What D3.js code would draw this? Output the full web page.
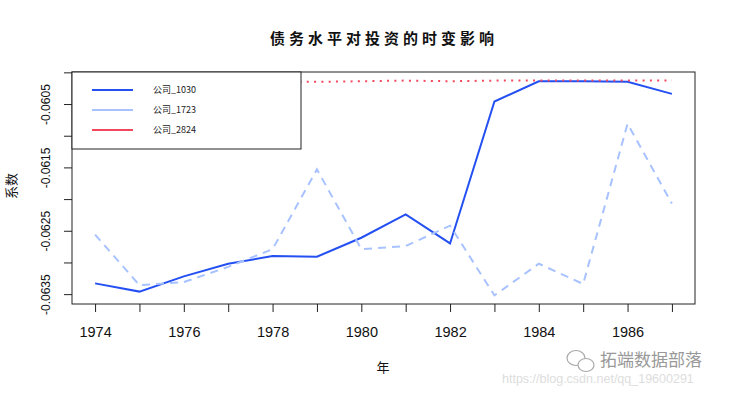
<!DOCTYPE html>
<html>
<head>
<meta charset="utf-8">
<script src="https://cdn.jsdelivr.net/npm/d3@7"></script>
<style>
  body { margin: 0; background: #fff; }
  svg { display: block; }
  text { font-family: "Liberation Sans", Arial, sans-serif; }
  .cjk { font-family: "Noto Sans CJK SC", sans-serif; }
</style>
</head>
<body>
<svg id="chart" width="732" height="394"></svg>
<script>
// данные
const years = [1974, 1975, 1976, 1977, 1978, 1979, 1980, 1981, 1982, 1983, 1984, 1985, 1986, 1987]
const firm1030 = [-0.06333, -0.06346, -0.06322, -0.06302, -0.06290, -0.06291, -0.06261, -0.06224, -0.06270, -0.06046, -0.06014, -0.06014, -0.06015, -0.06034]
const firm1723 = [-0.06256, -0.06336, -0.06331, -0.06307, -0.06279, -0.06153, -0.06279, -0.06274, -0.06242, -0.06352, -0.06302, -0.06334, -0.06081, -0.06207]
const firm2824 = [-0.06016, -0.06016, -0.06016, -0.06015, -0.06015, -0.06015, -0.06014, -0.06013, -0.06014, -0.06013, -0.06013, -0.06013, -0.06013, -0.06013]
const seriesNames = ['公司_1030', '公司_1723', '公司_2824']
const xTickLabels = [1974, 1976, 1978, 1980, 1982, 1984, 1986]
const yTicks = [-0.0600, -0.0605, -0.0610, -0.0615, -0.0620, -0.0625, -0.0630, -0.0635]
const yTickLabels = ['-0.0605', '-0.0615', '-0.0625', '-0.0635']

const series = [
  {name: seriesNames[0], values: firm1030, color: '#2450f2', dash: null},
  {name: seriesNames[1], values: firm1723, color: '#a8c2ff', dash: '8,6'},
  {name: seriesNames[2], values: firm2824, color: '#f2485e', dash: '2,5.3'}
]

let margin = {top: 72, right: 37, bottom: 90, left: 72}
let svg = d3.select('#chart')
let width = +svg.attr('width') - margin.left - margin.right
let height = +svg.attr('height') - margin.top - margin.bottom

// как в R: поля 4%
function padded (lo, hi) {
  let p = (hi - lo) * 0.04
  return [lo - p, hi + p]
}
let allY = firm1030.concat(firm1723, firm2824)

let x = d3.scaleLinear()
  .domain(padded(d3.min(years), d3.max(years)))
  .range([0, width])
let y = d3.scaleLinear()
  .domain(padded(d3.min(allY), d3.max(allY)))
  .range([height, 0])

let g = svg.append('g')
  .attr('transform', 'translate(' + margin.left + ',' + margin.top + ')')

let line = d3.line()
  .x(function (d, i) { return x(years[i]) })
  .y(function (d) { return y(d) })

// линии
series.forEach(function (s) {
  g.append('path')
    .datum(s.values)
    .attr('fill', 'none')
    .attr('stroke', s.color)
    .attr('stroke-width', 2)
    .attr('stroke-dasharray', s.dash)
    .attr('d', line)
})

// рамка
g.append('rect')
  .attr('width', width)
  .attr('height', height)
  .attr('fill', 'none')
  .attr('stroke', '#222')

// ось x
let gX = g.append('g')
  .attr('transform', 'translate(0,' + height + ')')
  .call(d3.axisBottom(x)
    .tickValues(years)
    .tickSize(8)
    .tickPadding(15)
    .tickFormat(function (d) { return xTickLabels.indexOf(d) >= 0 ? d : '' }))
gX.select('.domain').remove()
gX.selectAll('text').attr('font-size', 14.5).attr('fill', '#111').style('font-family', '"Liberation Sans", Arial, sans-serif')
gX.selectAll('line').attr('stroke', '#222')

// ось y
let gY = g.append('g')
  .call(d3.axisLeft(y)
    .tickValues(yTicks)
    .tickSize(8)
    .tickFormat(''))
gY.select('.domain').remove()
gY.selectAll('line').attr('stroke', '#222')
gY.selectAll('.tick')
  .filter(function (d) { return yTickLabels.indexOf(d.toFixed(4)) >= 0 })
  .append('text')
  .attr('transform', 'translate(-26,0) rotate(-90)')
  .attr('text-anchor', 'middle')
  .attr('dy', '0.35em')
  .attr('font-size', 12)
  .attr('fill', '#111')
  .style('font-family', '"Liberation Sans", Arial, sans-serif')
  .text(function (d) { return d.toFixed(4) })

// легенда
let legendW = 229
let legendH = 77
let legend = g.append('g')
legend.append('rect')
  .attr('width', legendW)
  .attr('height', legendH)
  .attr('fill', '#fff')
  .attr('stroke', '#222')
let legendRow = d3.scaleBand().domain(seriesNames).range([8, 68])
series.forEach(function (s) {
  let ly = legendRow(s.name) + legendRow.bandwidth() / 2
  legend.append('line')
    .attr('x1', 20).attr('x2', 61)
    .attr('y1', ly).attr('y2', ly)
    .attr('stroke', s.color)
    .attr('stroke-width', 2)
  legend.append('text')
    .attr('class', 'cjk')
    .attr('x', 81)
    .attr('y', ly)
    .attr('dy', '0.35em')
    .attr('font-size', 9)
    .attr('fill', '#222')
    .text(s.name)
})

// подписи
svg.append('text')
  .attr('class', 'cjk')
  .attr('x', 384)
  .attr('y', 44)
  .attr('text-anchor', 'middle')
  .attr('font-size', 15)
  .attr('font-weight', 'bold')
  .attr('letter-spacing', 4)
  .attr('fill', '#111')
  .text('债务水平对投资的时变影响')

svg.append('text')
  .attr('class', 'cjk')
  .attr('x', 383)
  .attr('y', 372)
  .attr('text-anchor', 'middle')
  .attr('font-size', 13)
  .attr('fill', '#111')
  .text('年')

svg.append('text')
  .attr('class', 'cjk')
  .attr('transform', 'translate(16,186) rotate(-90)')
  .attr('text-anchor', 'middle')
  .attr('font-size', 13)
  .attr('fill', '#111')
  .text('系数')

// водяной знак
let wm = svg.append('g').attr('transform', 'translate(566,350)')
wm.append('ellipse').attr('cx', 10).attr('cy', 8).attr('rx', 9).attr('ry', 7.5)
  .attr('fill', '#fff').attr('stroke', '#aaa').attr('stroke-width', 1.2)
wm.append('ellipse').attr('cx', 20).attr('cy', 15).attr('rx', 8).attr('ry', 6.5)
  .attr('fill', '#fff').attr('stroke', '#aaa').attr('stroke-width', 1.2)
svg.append('text')
  .attr('class', 'cjk')
  .attr('x', 600)
  .attr('y', 366)
  .attr('font-size', 17)
  .attr('fill', '#999')
  .text('拓端数据部落')
svg.append('text')
  .attr('x', 502)
  .attr('y', 383)
  .attr('font-size', 12.5)
  .attr('fill', '#ddd')
  .text('https://blog.csdn.net/qq_19600291')
</script>
</body>
</html>
